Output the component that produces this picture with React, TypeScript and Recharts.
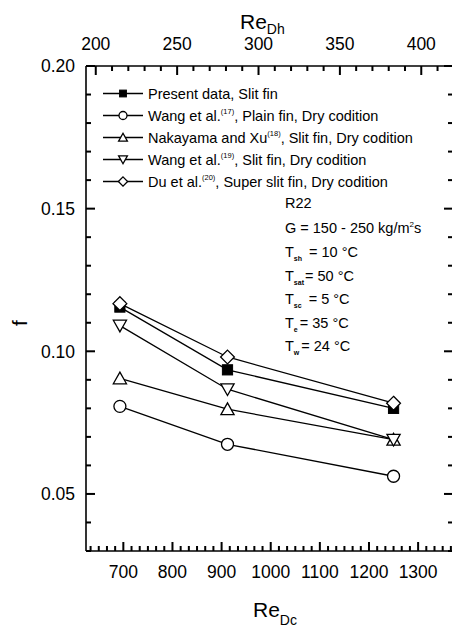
import React from 'react';
import { ComposedChart, Line, XAxis, YAxis } from 'recharts';

// Re_Dc positions of the three test points
const reDc = [693, 912, 1250];

// friction factor f per data set
const presentData = [0.1155, 0.0935, 0.0800];
const wang17 = [0.0807, 0.0674, 0.0562];
const nakayama18 = [0.0905, 0.0797, 0.0690];
const wang19 = [0.1090, 0.0867, 0.0690];
const du20 = [0.1167, 0.0980, 0.0818];

const bottomMajor = [700, 800, 900, 1000, 1100, 1200, 1300];
const topMajor = [200, 250, 300, 350, 400];
const leftMajor = [0.05, 0.1, 0.15, 0.2];

const FONT = '"Liberation Sans", Arial, Helvetica, sans-serif';
const W = 452;
const H = 619;

// plot box (axis sizes given to recharts below)
const LEFT_W = 78;
const RIGHT_W = 7;
const TOP_H = 58;
const BOTTOM_H = 76;
const PW = W - LEFT_W - RIGHT_W;
const PH = H - TOP_H - BOTTOM_H;

const xDomain: [number, number] = [624, 1371];
const topDomain: [number, number] = [194, 419.5];
const yDomain: [number, number] = [0.03, 0.2];

const rows = reDc.map((x, i) => ({
	x,
	present: presentData[i],
	wang17: wang17[i],
	naka18: nakayama18[i],
	wang19: wang19[i],
	du20: du20[i],
}));

// tick lists (majors + minors)
const bottomTicks: number[] = [];
for (let k = 600; k <= 1300; k += 100) {
	for (let i = 0; i < 6; i++) {
		const v = k + (i * 100) / 6;
		if (v >= 626 && v <= 1368) bottomTicks.push(v);
	}
}
const topTicks: number[] = [];
for (let v = 200; v <= 410; v += 10) topTicks.push(v);
const yTicks: number[] = [];
for (let v = 3; v <= 20; v++) yTicks.push(v / 100);

const isBottomMajor = (v: number) => bottomMajor.some(m => Math.abs(m - v) < 1e-6);
const isTopMajor = (v: number) => topMajor.includes(v);
const isLeftMajor = (v: number) => leftMajor.some(m => Math.abs(m - v) < 1e-9);

const sx = (v: number, d: [number, number]) => LEFT_W + ((v - d[0]) / (d[1] - d[0])) * PW;
const sy = (v: number) => TOP_H + ((yDomain[1] - v) / (yDomain[1] - yDomain[0])) * PH;

type Kind = 'square' | 'circle' | 'up' | 'down' | 'diamond';

const marker = (kind: Kind, cx: number, cy: number, s: number, key?: string) => {
	const st = { stroke: '#000', strokeWidth: 1.3, fill: '#fff' };
	switch (kind) {
		case 'square':
			return <rect key={key} x={cx - s * 0.85} y={cy - s * 0.85} width={s * 1.7} height={s * 1.7} fill="#000" stroke="#000" />;
		case 'circle':
			return <circle key={key} cx={cx} cy={cy} r={s} {...st} />;
		case 'up':
			return <polygon key={key} points={`${cx},${cy - s * 1.05} ${cx + s * 1.1},${cy + s * 0.9} ${cx - s * 1.1},${cy + s * 0.9}`} {...st} />;
		case 'down':
			return <polygon key={key} points={`${cx},${cy + s * 1.05} ${cx + s * 1.1},${cy - s * 0.9} ${cx - s * 1.1},${cy - s * 0.9}`} {...st} />;
		default:
			return <polygon key={key} points={`${cx},${cy - s * 1.15} ${cx + s * 1.15},${cy} ${cx},${cy + s * 1.15} ${cx - s * 1.15},${cy}`} {...st} />;
	}
};

const dotOf = (kind: Kind) => (p: any) => marker(kind, p.cx, p.cy, 6, `${kind}-${p.index}`);

// tick labels drawn by recharts
const BottomTick = (p: any) => {
	const v = p.payload.value;
	return (
		<text x={p.x} y={p.y + 27} textAnchor="middle" fontSize={17.5} fontFamily={FONT} fill="#000">
			{isBottomMajor(v) ? Math.round(v) : ''}
		</text>
	);
};

const TopTick = (p: any) => {
	const v = p.payload.value;
	return (
		<text x={p.x} y={p.y - 16} textAnchor="middle" fontSize={17.5} fontFamily={FONT} fill="#000">
			{isTopMajor(v) ? v : ''}
		</text>
	);
};

const LeftTick = (p: any) => {
	const v = p.payload.value;
	return (
		<text x={p.x - 11} y={p.y} dy="0.36em" textAnchor="end" fontSize={17.5} fontFamily={FONT} fill="#000">
			{isLeftMajor(v) ? v.toFixed(2) : ''}
		</text>
	);
};

const NoTick = () => <g />;

const legendItems: { kind: Kind; name: string; sup?: string; rest?: string }[] = [
	{ kind: 'square', name: 'Present data, Slit fin' },
	{ kind: 'circle', name: 'Wang et al.', sup: '(17)', rest: ', Plain fin, Dry codition' },
	{ kind: 'up', name: 'Nakayama and Xu', sup: '(18)', rest: ', Slit fin, Dry codition' },
	{ kind: 'down', name: 'Wang et al.', sup: '(19)', rest: ', Slit fin, Dry codition' },
	{ kind: 'diamond', name: 'Du et al.', sup: '(20)', rest: ', Super slit fin, Dry codition' },
];

const conditions: { sub: string; rest: string; gap: number }[] = [
	{ sub: 'sh', rest: '= 10 °C', gap: 7 },
	{ sub: 'sat', rest: '= 50 °C', gap: 1 },
	{ sub: 'sc', rest: '= 5 °C', gap: 7 },
	{ sub: 'e', rest: '= 35 °C', gap: 2 },
	{ sub: 'w', rest: '= 24 °C', gap: 2 },
];

// one inward tick mark as a filled rectangle
const tickRect = (key: string, x: number, y: number, w: number, h: number) => (
	<rect key={key} x={x} y={y} width={w} height={h} fill="#000" stroke="none" />
);

// inward tick marks, axis titles, legend and operating conditions, laid over the chart
const Overlay = () => {
	const bottomY = TOP_H + PH;
	const rightX = LEFT_W + PW;
	const marks: React.ReactNode[] = [];
	bottomTicks.forEach((v, i) => {
		const x = sx(v, xDomain);
		const len = isBottomMajor(v) ? 9 : 5;
		marks.push(tickRect(`b${i}`, x - 1, bottomY - len, 2, len));
	});
	topTicks.forEach((v, i) => {
		const x = sx(v, topDomain);
		const len = isTopMajor(v) ? 9 : 5;
		marks.push(tickRect(`t${i}`, x - 1, TOP_H, 2, len));
	});
	yTicks.forEach((v, i) => {
		const y = sy(v);
		const len = isLeftMajor(v) ? 9 : 5;
		marks.push(tickRect(`l${i}`, LEFT_W, y - 1, len, 2));
		marks.push(tickRect(`r${i}`, rightX - len, y - 1, len, 2));
	});
	return (
		<svg width={W} height={H} style={{ position: 'absolute', left: 0, top: 0, pointerEvents: 'none' }}>
			{marks}
			<g fontFamily={FONT} fill="#000">
				<text x={232} y={21} fontSize={21}>Re<tspan fontSize={14} dy={5}>Dh</tspan></text>
				<text x={245} y={609} fontSize={21}>Re<tspan fontSize={14} dy={8}>Dc</tspan></text>
				<text x={0} y={0} fontSize={21} textAnchor="middle" transform="translate(19,315) rotate(-90)">f</text>

				{legendItems.map((it, i) => {
					const y = 85.5 + 22 * i;
					return (
						<g key={it.name + i}>
							<line x1={95} x2={135} y1={y} y2={y} stroke="#000" strokeWidth={1.3} />
							{marker(it.kind, 115, y, 4)}
							<text x={140} y={y} dy={5.2} fontSize={14.5}>
								{it.name}
								{it.sup && <tspan fontSize={7.5} dy={-7}>{it.sup}</tspan>}
								{it.rest && <tspan dy={7}>{it.rest}</tspan>}
							</text>
						</g>
					);
				})}

				<text x={277} y={200} fontSize={14.5}>R22</text>
				<text x={277} y={225} fontSize={14.5}>
					G = 150 - 250 kg/m<tspan fontSize={8} dy={-6}>2</tspan><tspan dy={6}>s</tspan>
				</text>
				{conditions.map((c, i) => (
					<text key={c.sub} x={277} y={249 + 23.5 * i} fontSize={14.5}>
						T
						<tspan fontSize={7} fontWeight="bold" dy={4}>{c.sub}</tspan>
						<tspan dy={-4} dx={c.gap}>{c.rest}</tspan>
					</text>
				))}
			</g>
		</svg>
	);
};

export default function App() {
	return (
		<div style={{ position: 'relative', width: W, height: H }}>
			<ComposedChart width={W} height={H} data={rows} margin={{ top: 0, right: 0, bottom: 0, left: 0 }}>
				<XAxis xAxisId="bottom" dataKey="x" type="number" domain={xDomain} ticks={bottomTicks} interval={0}
				       orientation="bottom" height={BOTTOM_H} tickSize={0} tickMargin={0} tick={BottomTick}
				       axisLine={{ stroke: '#000', strokeWidth: 1.6 }} allowDataOverflow />
				<XAxis xAxisId="top" dataKey="x" type="number" domain={topDomain} ticks={topTicks} interval={0}
				       orientation="top" height={TOP_H} tickSize={0} tickMargin={0} tick={TopTick}
				       axisLine={{ stroke: '#000', strokeWidth: 1.6 }} allowDataOverflow />
				<YAxis yAxisId="left" type="number" domain={yDomain} ticks={yTicks} interval={0}
				       orientation="left" width={LEFT_W} tickSize={0} tickMargin={0} tick={LeftTick}
				       axisLine={{ stroke: '#000', strokeWidth: 1.6 }} allowDataOverflow />
				<YAxis yAxisId="right" type="number" domain={yDomain} ticks={yTicks} interval={0}
				       orientation="right" width={RIGHT_W} tickSize={0} tickMargin={0} tick={NoTick}
				       axisLine={{ stroke: '#000', strokeWidth: 1.6 }} allowDataOverflow />
				<Line xAxisId="bottom" yAxisId="left" dataKey="wang17" stroke="#000" strokeWidth={1.3} dot={dotOf('circle')} isAnimationActive={false} />
				<Line xAxisId="bottom" yAxisId="left" dataKey="naka18" stroke="#000" strokeWidth={1.3} dot={dotOf('up')} isAnimationActive={false} />
				<Line xAxisId="bottom" yAxisId="left" dataKey="wang19" stroke="#000" strokeWidth={1.3} dot={dotOf('down')} isAnimationActive={false} />
				<Line xAxisId="bottom" yAxisId="left" dataKey="present" stroke="#000" strokeWidth={1.3} dot={dotOf('square')} isAnimationActive={false} />
				<Line xAxisId="bottom" yAxisId="left" dataKey="du20" stroke="#000" strokeWidth={1.3} dot={dotOf('diamond')} isAnimationActive={false} />
			</ComposedChart>
			<Overlay />
		</div>
	);
}
